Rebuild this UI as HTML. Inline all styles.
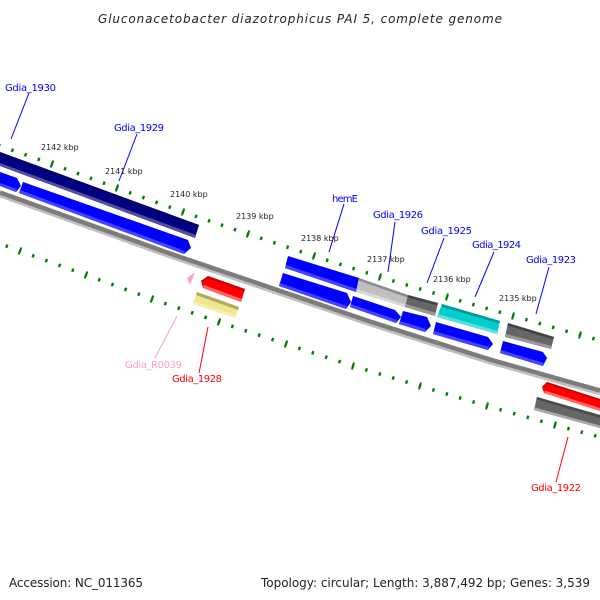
<!DOCTYPE html>
<html><head><meta charset="utf-8"><style>
html,body{margin:0;padding:0;background:#fff;width:600px;height:600px;overflow:hidden}
svg{display:block}
text{font-family:"DejaVu Sans","Liberation Sans",sans-serif}
.k{font-size:8px;fill:#222}
.l{font-size:10px}
.b{fill:#00f}.r{fill:#f00}
.d path{fill:none;stroke:#008000;stroke-width:3.5;stroke-dasharray:1.7 8.3;stroke-dashoffset:.85}
.m line{stroke:#008000;stroke-width:2}
</style></head><body>
<svg width="600" height="600" viewBox="0 0 600 600" xmlns="http://www.w3.org/2000/svg">
<rect width="600" height="600" fill="#fff"/>
<text x="98" y="23" font-size="12" font-style="italic" fill="#222" textLength="404" lengthAdjust="spacing">Gluconacetobacter diazotrophicus PAI 5, complete genome</text>

<!-- backbone -->
<polyline points="0,195.500 170,256.500 370,324.500 490,362.500 600,393.500" fill="none" stroke="#c0c0c0" stroke-width="4"/>
<polyline points="0,192.500 170,253.500 370,321.500 490,359.500 600,390.500" fill="none" stroke="#7c7c7c" stroke-width="4.500"/>

<!-- tick dots -->
<g class="d">
<path pathLength="50" d="M-14 141L52 164"/><path pathLength="50" d="M52 164L117 188"/><path pathLength="50" d="M117 188L183 212"/><path pathLength="50" d="M183 212L248 234"/><path pathLength="50" d="M248 234L314 256"/><path pathLength="50" d="M314 256L380 277"/><path pathLength="50" d="M380 277L447 297"/><path pathLength="50" d="M447 297L513 316"/><path pathLength="50" d="M513 316L580 335"/><path pathLength="50" d="M580 335L647 353"/>
<path pathLength="50" d="M-46 227L20 251"/><path pathLength="50" d="M20 251L86 275"/><path pathLength="50" d="M86 275L152 299"/><path pathLength="50" d="M152 299L219 322"/><path pathLength="50" d="M219 322L286 344"/><path pathLength="50" d="M286 344L353 366"/><path pathLength="50" d="M353 366L420 386"/><path pathLength="50" d="M420 386L487 406"/><path pathLength="50" d="M487 406L555 425"/><path pathLength="50" d="M555 425L622 443"/>
</g>
<g class="m">
<line x1="50.700" y1="167.500" x2="53.300" y2="160.500"/><line x1="115.700" y1="191.500" x2="118.300" y2="184.500"/><line x1="181.700" y1="215.500" x2="184.300" y2="208.500"/><line x1="246.800" y1="237.500" x2="249.200" y2="230.500"/><line x1="312.800" y1="259.500" x2="315.200" y2="252.500"/><line x1="379" y1="280.500" x2="381" y2="273.500"/><line x1="446" y1="300.500" x2="448" y2="293.500"/><line x1="512" y1="319.500" x2="514" y2="312.500"/><line x1="579" y1="338.500" x2="581" y2="331.500"/>
<line x1="18.700" y1="254.500" x2="21.300" y2="247.500"/><line x1="84.700" y1="278.500" x2="87.300" y2="271.500"/><line x1="150.700" y1="302.500" x2="153.300" y2="295.500"/><line x1="217.800" y1="325.500" x2="220.200" y2="318.500"/><line x1="284.800" y1="347.500" x2="287.200" y2="340.500"/><line x1="352" y1="369.500" x2="354" y2="362.500"/><line x1="419" y1="389.500" x2="421" y2="382.500"/><line x1="486" y1="409.500" x2="488" y2="402.500"/><line x1="554" y1="428.500" x2="556" y2="421.500"/>
</g>

<!-- Gdia_1930 forward navy -->
<polygon points="0,152 199,225 195,238 0,166" fill="#000080"/>
<polygon points="0,152 199,225 198.300,227.500 0,155" fill="#000070"/>
<polygon points="0,163 196,235 195,238 0,166" fill="#50509f"/>
<!-- lower strand blues -->
<polygon points="0,172 17,178 21,186 16,192 0,186" fill="#00f"/>
<polygon points="0,183 17,189 16,192 0,186" fill="#44f"/>
<polygon points="23,182 188,240 191,248 184,254 19,193" fill="#00f"/>
<polygon points="20,190 185,251 184,254 19,193" fill="#44f"/>

<!-- hemE, grey, dark grey -->
<polygon points="288,256 359,278 356,292 285,268" fill="#00f"/>
<polygon points="286,265 357,289 356,292 285,268" fill="#44f"/>
<polygon points="359,278 408,295 405,307 356,292" fill="#bfbfbf"/>
<polygon points="359,278 408,295 407.300,297.500 358.300,280.500" fill="#8c8c8c"/>
<polygon points="357,289 406,304.500 405,307 356,292" fill="#d8d8d8"/>
<polygon points="408,295 438,303 435,316 405,307" fill="#666"/>
<polygon points="408,295 438,303 437.300,305.500 407.300,297.500" fill="#444"/>
<polygon points="406,304 436,313 435,316 405,307" fill="#999"/>

<!-- lower blues -->
<polygon points="283,273 347,293 351,302 346,309 279,286" fill="#00f"/>
<polygon points="280,283 347,306 346,309 279,286" fill="#44f"/>
<polygon points="353,296 395,310 401,317 396,323 350,307" fill="#00f"/>
<polygon points="351,304 397,320 396,323 350,307" fill="#44f"/>
<polygon points="403,311 427,317 431,326 425,332 399,324" fill="#00f"/>
<polygon points="400,321 426,329 425,332 399,324" fill="#44f"/>

<!-- cyan -->
<polygon points="442,304 500,321 497,334 437,317" fill="#00cdcd"/>
<polygon points="442,304 500,321 499.300,323.500 441.200,306.500" fill="#009a9a"/>
<polygon points="438,314 498,331 497,334 437,317" fill="#5ddede"/>
<polygon points="436,322 488,337 493,344 488,350 433,334" fill="#00f"/>
<polygon points="434,331 489,347 488,350 433,334" fill="#44f"/>

<!-- dark grey 2 -->
<polygon points="508,323 554,337 551,349 505,337" fill="#666"/>
<polygon points="508,323 554,337 553.300,339.500 507.300,325.500" fill="#444"/>
<polygon points="506,334 552,346 551,349 505,337" fill="#999"/>
<polygon points="503,341 543,352 547,358 543,366 500,353" fill="#00f"/>
<polygon points="501,350 544,363 543,366 500,353" fill="#44f"/>

<!-- reverse strand -->
<polygon points="547,382 600,399 600,411 544,393 542,387" fill="#f00"/>
<polygon points="547,382 600,399 600,401 547,384 543,388 542,387" fill="#d00000"/>
<polygon points="545,390.500 600,408 600,411 544,393" fill="#f66"/>
<polygon points="537,397 600,415 600,428 534,410" fill="#666"/>
<polygon points="537,397 600,415 600,418 536.300,399.500" fill="#4c4c4c"/>
<polygon points="535,407.500 600,425.500 600,428 534,410" fill="#aaa"/>

<polygon points="208,276 245,289 241,302 203,288 201,281" fill="#f00"/>
<polygon points="208,276 245,289 244.300,291.500 208,278.500 202,282 201,281" fill="#d00000"/>
<polygon points="204,285 242,299 241,302 203,288" fill="#f66"/>
<polygon points="197,292 239,307 235,318 193,304" fill="#f0e68c"/>
<polygon points="197,292 239,307 238,310 196,295" fill="#b3a860"/>
<polygon points="194,301.500 236,315.500 235,318 193,304" fill="#f5eebb"/>
<polygon points="195,272 187,278 190,285" fill="#ffa0d0"/>

<!-- leaders -->
<g stroke-width="1" fill="none">
<g stroke="#00f">
<line x1="29" y1="93" x2="11" y2="139"/>
<line x1="137" y1="134" x2="119" y2="181"/>
<line x1="344" y1="204" x2="329" y2="252"/>
<line x1="395" y1="222" x2="388" y2="272"/>
<line x1="444" y1="238" x2="427" y2="283"/>
<line x1="494" y1="252" x2="475" y2="297"/>
<line x1="549" y1="267" x2="536" y2="314"/>
</g>
<g stroke="#f00">
<line x1="568" y1="437" x2="556" y2="482"/>
<line x1="208" y1="327" x2="199" y2="373"/>
</g>
<line x1="177" y1="316" x2="155" y2="358" stroke="#ff9cc8"/>
</g>

<!-- labels -->
<g class="l">
<text class="b" x="5" y="91" textLength="51">Gdia_1930</text>
<text class="b" x="114" y="131" textLength="50">Gdia_1929</text>
<text class="b" x="332" y="202" textLength="26">hemE</text>
<text class="b" x="373" y="218" textLength="50">Gdia_1926</text>
<text class="b" x="421" y="234" textLength="51">Gdia_1925</text>
<text class="b" x="472" y="248" textLength="49">Gdia_1924</text>
<text class="b" x="526" y="263" textLength="50">Gdia_1923</text>
<text class="r" x="531" y="491" textLength="50">Gdia_1922</text>
<text class="r" x="172" y="382" textLength="50">Gdia_1928</text>
<text x="125" y="368" fill="#ff9cc8" textLength="57">Gdia_R0039</text>
</g>
<text class="k" x="41" y="150">2142 kbp</text>
<text class="k" x="105" y="174">2141 kbp</text>
<text class="k" x="170" y="197">2140 kbp</text>
<text class="k" x="236" y="219">2139 kbp</text>
<text class="k" x="301" y="241">2138 kbp</text>
<text class="k" x="367" y="262">2137 kbp</text>
<text class="k" x="433" y="282">2136 kbp</text>
<text class="k" x="499" y="301">2135 kbp</text>

<text x="9" y="587" font-size="12" fill="#222" textLength="134">Accession: NC_011365</text>
<text x="261" y="587" font-size="12" fill="#222" textLength="329">Topology: circular; Length: 3,887,492 bp; Genes: 3,539</text>
</svg>
</body></html>
